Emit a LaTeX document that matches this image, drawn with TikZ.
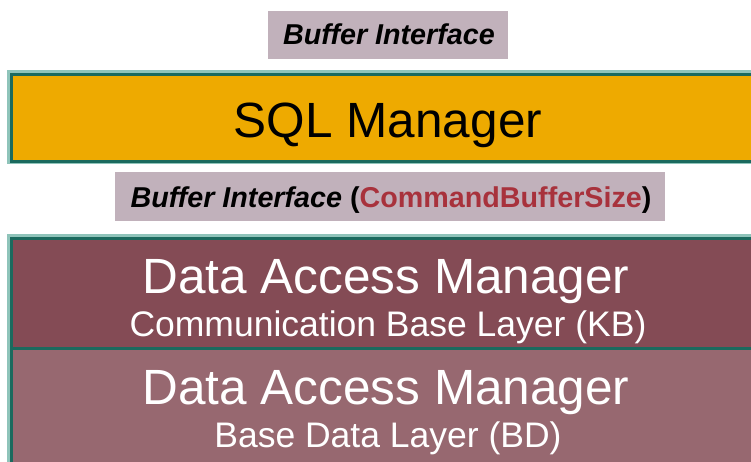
\documentclass[tikz,border=0pt]{standalone}
\usepackage{fontspec}
\setmainfont{Liberation Sans}
\definecolor{gold}{HTML}{EEAA00}
\definecolor{tealdark}{HTML}{1B6A5E}
\definecolor{teallight}{HTML}{8FC4BA}
\definecolor{damone}{HTML}{844B55}
\definecolor{damtwo}{HTML}{976870}
\definecolor{labelfill}{HTML}{C1B1BB}
\definecolor{redtext}{HTML}{A8323C}
\begin{document}
\begin{tikzpicture}[x=1pt,y=-1pt,
  layerbox/.style={anchor=north west, inner sep=0pt, minimum width=756pt, draw=tealdark, line width=3pt},
  labelbox/.style={anchor=north west, inner sep=0pt, fill=labelfill},
  bigtxt/.style={anchor=base, inner sep=0pt, font=\fontsize{49.5}{55}\selectfont},
  smalltxt/.style={anchor=base, inner sep=0pt, font=\fontsize{35.5}{40}\selectfont},
  labeltxt/.style={anchor=base, inner sep=0pt, font=\fontsize{28.7}{32}\selectfont\bfseries}]
\useasboundingbox (0,0) rectangle (751,461);
\clip (0,0) rectangle (751,461);
% top label
\node[labelbox, minimum width=240pt, minimum height=48pt] (lab1) at (268,11) {};
\node[labeltxt] (lab1t) at (389,44) {\itshape Buffer Interface};
% SQL manager
\fill[teallight] (7,70) rectangle (770,164);
\node[layerbox, fill=gold, minimum height=87pt] (sql) at (10,73) {};
\node[bigtxt] (sqlt) at (388,137) {SQL Manager};
% second label
\node[labelbox, minimum width=550pt, minimum height=49pt] (lab2) at (115,172) {};
\node[labeltxt] (lab2t) at (391,207) {\textit{Buffer Interface} (\textcolor{redtext}{CommandBufferSize})};
% DAM boxes
\fill[teallight] (7,234) rectangle (770,470);
\node[layerbox, fill=damone, minimum height=110pt] (dam1) at (10,237) {};
\node[layerbox, fill=damtwo, minimum height=125pt] (dam2) at (10,347) {};
\node[bigtxt, text=white] (dam1a) at (386,293) {Data Access Manager};
\node[smalltxt, text=white] (dam1b) at (388,336) {Communication Base Layer (KB)};
\node[bigtxt, text=white] (dam2a) at (386,404) {Data Access Manager};
\node[smalltxt, text=white] (dam2b) at (388,447) {Base Data Layer (BD)};
\end{tikzpicture}
\end{document}
